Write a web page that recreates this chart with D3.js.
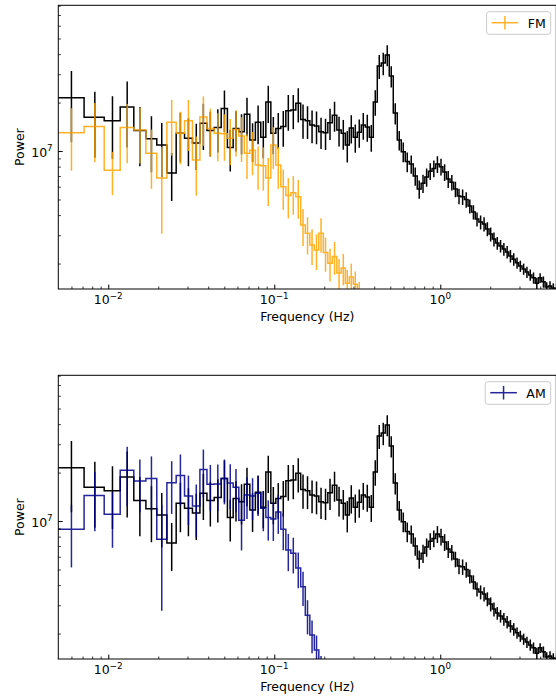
<!DOCTYPE html>
<html><head><meta charset="utf-8">
<script src="https://cdn.jsdelivr.net/npm/d3@7"></script>
<style>
body{margin:0;background:#fff}
svg{display:block}
text{font-family:"DejaVu Sans",sans-serif;fill:#000}
</style>
</head><body>
<svg id="chart" width="556" height="696"></svg>
<script>
// ---------------- data ----------------
const freq = [0.0060,0.0083,0.0106,0.0130,0.0155,0.0182,0.0210,0.0241,0.0272,0.0304,
  0.0339,0.0374,0.0412,0.0457,0.0501,0.0543,0.0588,0.0635,0.0685,0.0740,
  0.0799,0.0859,0.0920,0.0987,0.1057,0.1133,0.1215,0.1302,0.1395,0.1490,
  0.1586,0.1689,0.1797,0.1913,0.2036,0.2167,0.2307,0.2456,0.2605,0.2753,
  0.2910,0.3076,0.3251,0.3437,0.3633,0.3840,0.4059,0.4290,0.4534,0.4793,
  0.5066,0.5355,0.5660,0.5983,0.6324,0.6684,0.7065,0.7468,0.7872,0.8275,
  0.8699,0.9144,0.9612,1.0104,1.0622,1.1165,1.1737,1.2338,1.2970,1.3634,
  1.4332,1.5066,1.5837,1.6648,1.7500,1.8358,1.9218,2.0117,2.1058,2.2044,
  2.3076,2.4156,2.5286,2.6469,2.7708,2.9005,3.0362,3.1783,3.3271,3.4828,
  3.6458,3.8164,3.9950,4.1820,4.3777,4.5826,4.7970,5.0215];

// reference (black) power spectrum, shown in both panels
const refPower = [2.14e7,1.62e7,1.54e7,1.88e7,1.34e7,1.19e7,1.09e7,0.73e7,1.29e7,1.20e7,
  1.12e7,1.49e7,1.34e7,1.40e7,1.84e7,1.05e7,1.38e7,1.32e7,1.69e7,1.17e7,
  1.51e7,1.22e7,2.02e7,1.29e7,1.38e7,1.42e7,1.78e7,1.80e7,1.98e7,1.57e7,
  1.54e7,1.45e7,1.43e7,1.32e7,1.30e7,1.50e7,1.67e7,1.35e7,1.29e7,1.09e7,
  1.39e7,1.22e7,1.31e7,1.45e7,1.41e7,1.22e7,2.02e7,3.37e7,3.52e7,3.95e7,
  2.92e7,1.72e7,1.17e7,0.99e7,0.86e7,0.83e7,0.70e7,0.58e7,0.63e7,0.69e7,
  0.75e7,0.78e7,0.83e7,0.80e7,0.74e7,0.67e7,0.64e7,0.58e7,0.525e7,0.52e7,
  0.50e7,0.455e7,0.418e7,0.378e7,0.362e7,0.352e7,0.328e7,0.305e7,0.284e7,0.268e7,
  0.257e7,0.246e7,0.236e7,0.223e7,0.213e7,0.202e7,0.193e7,0.185e7,0.177e7,0.170e7,
  0.163e7,0.151e7,0.163e7,0.154e7,0.143e7,0.145e7,0.141e7,0.139e7];
const refRelErr = [0.47,0.44,0.42,0.44,0.40,0.38,0.37,0.33,0.34,0.33,
  0.32,0.32,0.31,0.30,0.29,0.29,0.28,0.28,0.27,0.27,
  0.27,0.26,0.26,0.26,0.25,0.25,0.25,0.24,0.24,0.24,
  0.23,0.23,0.23,0.22,0.22,0.22,0.21,0.21,0.21,0.22,
  0.20,0.20,0.20,0.19,0.19,0.19,0.18,0.17,0.16,0.15,
  0.15,0.15,0.14,0.14,0.14,0.13,0.13,0.13,0.13,0.13,
  0.12,0.12,0.12,0.12,0.12,0.12,0.11,0.11,0.11,0.11,
  0.11,0.10,0.10,0.10,0.10,0.10,0.10,0.10,0.10,0.09,
  0.09,0.09,0.09,0.09,0.09,0.08,0.08,0.08,0.08,0.08,
  0.08,0.08,0.07,0.08,0.07,0.07,0.07,0.07];

// FM series (orange)
const fmPower = [1.30e7,1.42e7,0.76e7,1.40e7,1.35e7,0.97e7,0.68e7,1.51e7,1.29e7,1.54e7,
  0.88e7,1.63e7,1.38e7,1.29e7,1.28e7,1.20e7,1.36e7,1.24e7,0.97e7,1.01e7,
  0.82e7,0.81e7,0.68e7,1.09e7,0.82e7,0.60e7,0.53e7,0.55e7,0.52e7,0.347e7,
  0.308e7,0.261e7,0.243e7,0.308e7,0.234e7,0.201e7,0.221e7,0.175e7,0.188e7,0.151e7,
  0.165e7,0.149e7,0.128e7];
const fmRelErr = [0.42,0.40,0.30,0.40,0.38,0.40,0.55,0.38,0.36,0.35,
  0.40,0.34,0.33,0.33,0.32,0.32,0.32,0.31,0.31,0.30,
  0.30,0.30,0.33,0.29,0.29,0.28,0.28,0.27,0.27,0.26,
  0.26,0.25,0.25,0.24,0.24,0.23,0.23,0.22,0.22,0.21,
  0.21,0.20,0.20];

// AM series (blue)
const amPower = [0.888e7,1.44e7,1.10e7,2.07e7,1.77e7,1.84e7,0.77e7,1.73e7,1.92e7,1.43e7,
  1.24e7,2.09e7,1.69e7,1.70e7,1.84e7,1.72e7,1.62e7,1.01e7,1.45e7,1.43e7,
  1.49e7,1.20e7,1.05e7,1.03e7,1.14e7,0.89e7,0.66e7,0.63e7,0.51e7,0.39e7,
  0.26e7,0.196e7,0.158e7,0.119e7];
const amRelErr = [0.42,0.40,0.38,0.40,0.36,0.37,0.64,0.36,0.35,0.34,
  0.36,0.33,0.32,0.32,0.31,0.31,0.30,0.35,0.29,0.29,
  0.28,0.28,0.28,0.27,0.27,0.26,0.26,0.25,0.25,0.24,
  0.24,0.23,0.23,0.22];

const seriesNames = ["FM", "AM"];
const seriesColors = ["#ffa500", "#00008b"];
const xTickValues = [0.01, 0.1, 1];
const xTickExponents = ["\u22122", "\u22121", "0"];
const yTickValues = [1e7];
const yTickExponents = ["7"];
const xLabel = "Frequency (Hz)";
const yLabel = "Power";

// ---------------- layout ----------------
const svg = d3.select("#chart");
const L = 58.3, R = 556.3, H = 283.7;
const panelTops = [5.3, 375.3];
const FS = 12.5;
const LW = 1.5;

const x = d3.scaleLog().domain([0.005, 5]).range([L, R]);

// step edges (midpoints between bin centres)
const n = freq.length;
const edges = [freq[0] - (freq[1] - freq[0]) / 2];
for (let i = 1; i < n; i++) edges.push((freq[i - 1] + freq[i]) / 2);
edges.push(freq[n - 1] + (freq[n - 1] - freq[n - 2]) / 2);

const minorX = [];
[-3, -2, -1, 0].forEach(d => { for (let k = 2; k <= 9; k++) { const v = k * Math.pow(10, d); if (v > 0.005 && v < 5) minorX.push(v); } });

const panelData = [
  {power: fmPower, err: fmRelErr},
  {power: amPower, err: amRelErr}
];

panelTops.forEach((T, p) => {
  const B = T + H;
  const y = d3.scaleLog().domain([1.39e6, 8.04e7]).range([B, T]);
  const minorY = [];
  [6, 7].forEach(d => { for (let k = 2; k <= 9; k++) { const v = k * Math.pow(10, d); if (v > y.domain()[0] && v < y.domain()[1]) minorY.push(v); } });

  const g = svg.append("g");
  const clipId = "clip" + p;
  svg.append("clipPath").attr("id", clipId).append("rect")
    .attr("x", L).attr("y", T).attr("width", R - L).attr("height", H);

  const plot = g.append("g").attr("clip-path", `url(#${clipId})`);

  function drawSeries(values, rel, color, opacity) {
    const gs = plot.append("g").attr("opacity", opacity);
    gs.selectAll("line.err").data(values).enter().append("line")
      .attr("x1", (d, i) => x(freq[i])).attr("x2", (d, i) => x(freq[i]))
      .attr("y1", (d, i) => y(d * (1 - rel[i]))).attr("y2", (d, i) => y(d * (1 + rel[i])))
      .attr("stroke", color).attr("stroke-width", LW);
    const pts = values.map((v, i) => [edges[i], v]);
    pts.push([edges[values.length], values[values.length - 1]]);
    gs.append("path").datum(pts)
      .attr("d", d3.line().x(d => x(d[0])).y(d => y(d[1])).curve(d3.curveStepAfter))
      .attr("fill", "none").attr("stroke", color).attr("stroke-width", LW)
      .attr("stroke-linejoin", "miter");
  }
  drawSeries(refPower, refRelErr, "#000000", 1);
  drawSeries(panelData[p].power, panelData[p].err, seriesColors[p], 0.85);

  // axes (ticks pointing inward)
  const ax = g.append("g").attr("transform", `translate(0,${B})`)
    .call(d3.axisBottom(x).tickValues(xTickValues).tickSizeInner(-4.4).tickSizeOuter(0).tickFormat(""));
  const axm = g.append("g").attr("transform", `translate(0,${B})`)
    .call(d3.axisBottom(x).tickValues(minorX).tickSizeInner(-2.5).tickSizeOuter(0).tickFormat(""));
  const ay = g.append("g").attr("transform", `translate(${L},0)`)
    .call(d3.axisLeft(y).tickValues(yTickValues).tickSizeInner(-4.4).tickSizeOuter(0).tickFormat(""));
  const aym = g.append("g").attr("transform", `translate(${L},0)`)
    .call(d3.axisLeft(y).tickValues(minorY).tickSizeInner(-2.5).tickSizeOuter(0).tickFormat(""));
  [ax, axm, ay, aym].forEach(a => a.select(".domain").remove());
  [ax, ay].forEach(a => a.selectAll(".tick line").attr("stroke", "#000").attr("stroke-width", 1));
  [axm, aym].forEach(a => a.selectAll(".tick line").attr("stroke", "#000").attr("stroke-width", 0.8));

  // frame
  g.append("rect").attr("x", L).attr("y", T).attr("width", R - L).attr("height", H)
    .attr("fill", "none").attr("stroke", "#000").attr("stroke-width", 1);

  // x tick labels
  xTickValues.forEach((v, i) => {
    const t = g.append("text").attr("x", x(v)).attr("y", B + 15).attr("text-anchor", "middle")
      .attr("font-size", FS);
    t.append("tspan").text("10");
    t.append("tspan").attr("dy", -5).attr("font-size", FS * 0.7).text(xTickExponents[i]);
  });
  // y tick labels
  yTickValues.forEach((v, i) => {
    const t = g.append("text").attr("x", 52.7).attr("y", y(v) + 5.5).attr("text-anchor", "end")
      .attr("font-size", FS);
    t.append("tspan").text("10");
    t.append("tspan").attr("dy", -5.5).attr("font-size", FS * 0.7).text(yTickExponents[i]);
  });

  // axis labels
  g.append("text").attr("x", (L + R) / 2).attr("y", B + 31.5).attr("text-anchor", "middle")
    .attr("font-size", FS).text(xLabel);
  g.append("text").attr("transform", `translate(23.8,${(T + B) / 2}) rotate(-90)`)
    .attr("text-anchor", "middle").attr("font-size", FS).text(yLabel);

  // legend
  const lg = g.append("g");
  const box = lg.append("rect");
  const label = lg.append("text").attr("font-size", FS).text(seriesNames[p]);
  const tw = label.node().getComputedTextLength();
  const bw = 5 + 26.6 + 9.5 + tw + 5;
  const bx = R - 5.6 - bw, by = T + 6.4, bh = 22.6;
  box.attr("x", bx).attr("y", by).attr("width", bw).attr("height", bh).attr("rx", 2.5)
    .attr("fill", "#fff").attr("fill-opacity", 0.8).attr("stroke", "#cccccc").attr("stroke-width", 1);
  label.attr("x", bx + 5 + 26.6 + 9.5).attr("y", by + 15.8);
  const ly = by + 11;
  const sg = lg.append("g").attr("opacity", 0.85);
  sg.append("line").attr("x1", bx + 5).attr("x2", bx + 31.6).attr("y1", ly).attr("y2", ly)
    .attr("stroke", seriesColors[p]).attr("stroke-width", LW);
  sg.append("line").attr("x1", bx + 18.3).attr("x2", bx + 18.3).attr("y1", ly - 6.8).attr("y2", ly + 6.8)
    .attr("stroke", seriesColors[p]).attr("stroke-width", LW);
});
</script>
</body></html>
